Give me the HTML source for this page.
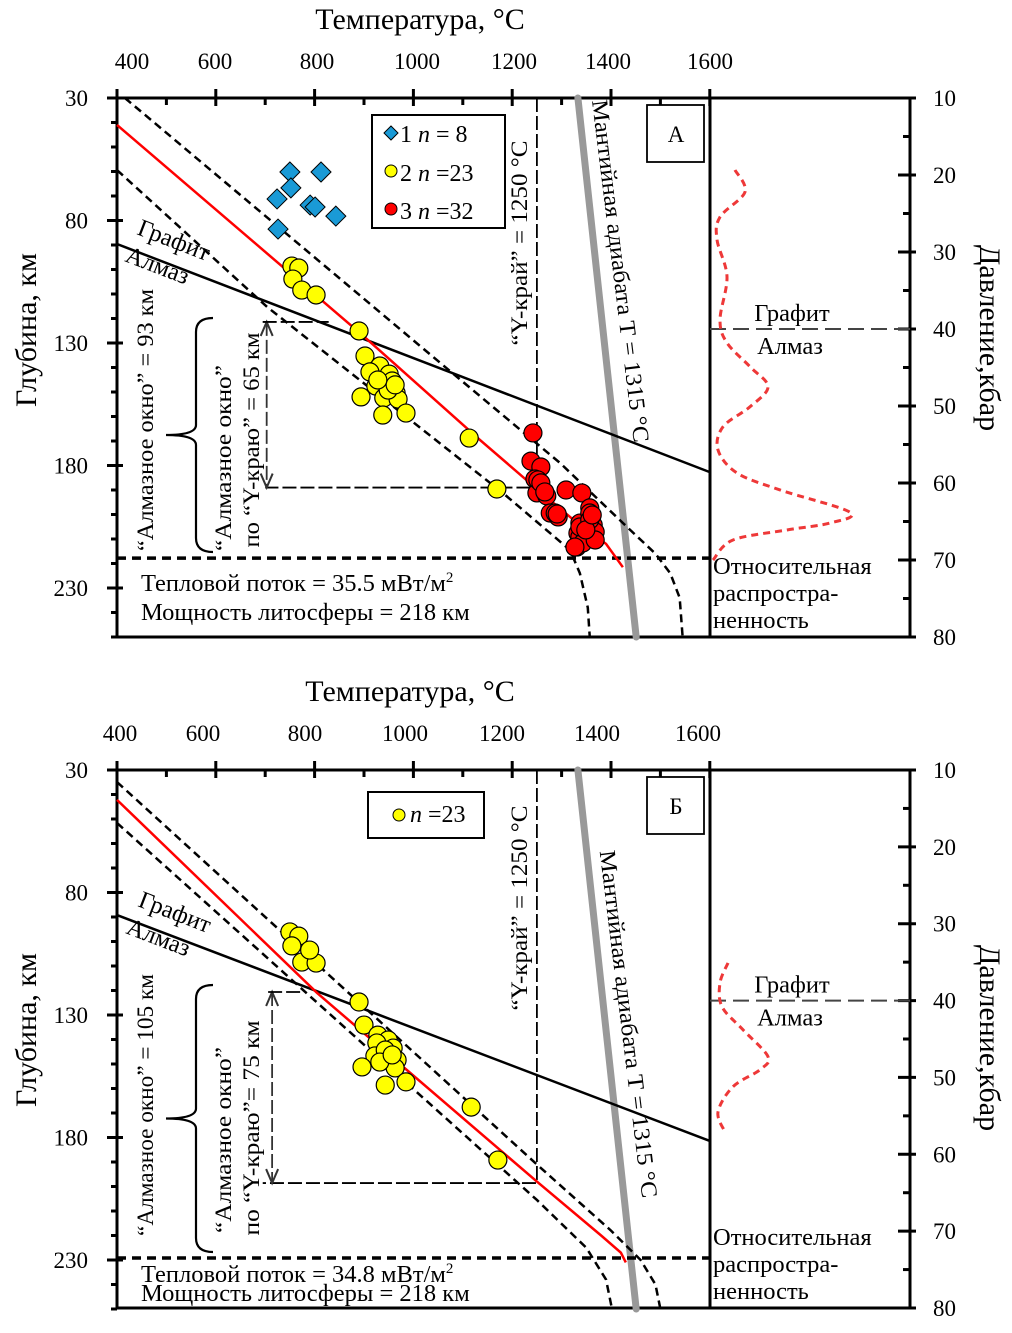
<!DOCTYPE html>
<html><head><meta charset="utf-8"><style>
html,body{margin:0;padding:0;background:#fff;}
svg{display:block;font-family:"Liberation Serif",serif;}
</style></head><body>
<svg id="chart" xmlns="http://www.w3.org/2000/svg" width="1012" height="1333" viewBox="0 0 1012 1333"></svg>
<script>
// ---------- DATA ----------
const tempTicks = [400, 600, 800, 1000, 1200, 1400, 1600];
const depthTicks = [30, 80, 130, 180, 230];
const pressureTicks = [10, 20, 30, 40, 50, 60, 70, 80];

// Panel A
const aDiamondT = [750, 813, 752, 724, 791, 801, 843, 726];
const aDiamondD = [60.2, 60.2, 66.7, 71.2, 73.7, 74.5, 78.2, 83.5];
const aYellowT = [754, 768, 756, 774, 803, 890, 902, 932, 951, 924, 957, 965, 894, 940, 969, 938, 985, 1113, 1169, 912, 949, 963, 928];
const aYellowD = [98.6, 99.4, 103.9, 108.4, 110.4, 125.1, 135.3, 139.4, 142.7, 147.6, 145.5, 150.4, 152.0, 152.4, 152.9, 159.4, 158.6, 168.8, 189.6, 141.8, 149.2, 147.1, 145.1];
const aRedT = [1242, 1238, 1258, 1246, 1250, 1270, 1309, 1341, 1357, 1277, 1293, 1337, 1364, 1333, 1364, 1331, 1357, 1343, 1252, 1287, 1337, 1368, 1343, 1327, 1337, 1357, 1368, 1349, 1258, 1266, 1291, 1362];
const aRedD = [166.7, 178.2, 180.6, 185.5, 191.2, 192.4, 190.0, 191.2, 197.3, 199.4, 201.0, 203.5, 204.3, 207.6, 209.2, 213.3, 199.4, 205.5, 185.9, 199.4, 209.2, 207.1, 211.6, 213.3, 205.1, 202.2, 210.4, 206.3, 187.1, 190.8, 199.8, 200.2];
const aGeoT = [400, 898, 1135, 1250, 1323, 1390, 1424];
const aGeoD = [41, 127, 169.6, 189.6, 202, 212, 221.5];
const aUpT = [416, 1040, 1297, 1432, 1490, 1520, 1539, 1545];
const aUpD = [30, 135.7, 179, 205, 216, 224, 234, 250];
const aLoT = [400, 704, 1181, 1317, 1337, 1353, 1357];
const aLoD = [59.4, 115.3, 191.2, 214.5, 224, 238, 250];
const aGdT = [400, 1600];
const aGdD = [89.6, 182.7];
const aDistP = [19.35, 22.2, 25.45, 28.4, 33.2, 38.8, 41.8, 44.9, 47.5, 50.1, 52.7, 55.7, 58.7, 60.9, 63.8, 65.2, 66.1, 67.4, 70];
const aDistA = [0.125, 0.175, 0.05, 0.035, 0.085, 0.05, 0.085, 0.2, 0.29, 0.2, 0.065, 0.04, 0.135, 0.35, 0.7, 0.6, 0.385, 0.115, 0.015];

// Panel B
const bYellowT = [750, 768, 754, 774, 803, 890, 900, 928, 949, 959, 926, 922, 967, 963, 896, 943, 985, 1117, 1171, 943, 932, 957, 790];
const bYellowD = [96.1, 97.8, 101.8, 108.4, 108.8, 124.7, 134.1, 138.2, 140.2, 143.5, 141.4, 146.7, 148.4, 151.6, 151.2, 158.6, 157.3, 167.6, 189.2, 144.3, 149.2, 146.3, 103.5];
const bGeoT = [400, 805, 1250, 1380, 1420, 1430];
const bGeoD = [42.2, 121, 198, 220, 227, 231];
const bUpT = [400, 1250, 1400, 1460, 1490, 1500];
const bUpD = [34.9, 191, 218, 230, 240, 250];
const bLoT = [400, 1250, 1350, 1390, 1402];
const bLoD = [51.6, 205.5, 225, 238, 250];
const bGdT = [400, 1600];
const bGdD = [89.2, 181.4];
const bDistP = [35.1, 37.7, 40.8, 43.8, 47.3, 49.0, 51.2, 54.5, 57.1];
const bDistA = [0.09, 0.05, 0.06, 0.165, 0.29, 0.25, 0.115, 0.04, 0.075];

const adiabatT = [1333, 1451];
const adiabatD = [30, 250];

// ---------- DRAW ----------
const NS = "http://www.w3.org/2000/svg";
const svg = document.getElementById('chart');
function mk(tag, attrs, parent, txt) {
  const e = document.createElementNS(NS, tag);
  for (const k in attrs) e.setAttribute(k, attrs[k]);
  if (txt !== undefined) e.textContent = txt;
  (parent || svg).appendChild(e);
  return e;
}
function smoothPath(pts) {
  let d = "M" + pts[0][0] + "," + pts[0][1];
  for (let i = 0; i < pts.length - 1; i++) {
    const p0 = pts[i - 1] || pts[i], p1 = pts[i], p2 = pts[i + 1], p3 = pts[i + 2] || p2;
    const c1 = [p1[0] + (p2[0] - p0[0]) / 6, p1[1] + (p2[1] - p0[1]) / 6];
    const c2 = [p2[0] - (p3[0] - p1[0]) / 6, p2[1] - (p3[1] - p1[1]) / 6];
    d += " C" + c1[0] + "," + c1[1] + " " + c2[0] + "," + c2[1] + " " + p2[0] + "," + p2[1];
  }
  return d;
}

function panel(cfg) {
  const g = mk('g', {});
  
  
  const top = cfg.top, bot = cfg.bot, xL = 117, xM = 710, xR = 910;
  const sx = T => xL + (T - 400) * 0.494;
  const sy = D => top + (D - 30) * 2.45;
  const py = P => top + (P - 10) * (bot - top) / 70;
  const ax = a => xM + a * 200;

  let t = mk('text', {x: cfg.titleX, y: cfg.titleY, 'font-size': 30, 'text-anchor': 'middle'}, g, 'Температура, °C');
   
  t = mk('text', {x: 0, y: 0, 'font-size': 30, 'text-anchor': 'middle', transform: `translate(36,${cfg.ylabY}) rotate(-90)`}, g, 'Глубина, км');
   
  t = mk('text', {x: 0, y: 0, 'font-size': 30, 'text-anchor': 'middle', transform: `translate(980,${cfg.ylabY + 8}) rotate(90)`}, g, 'Давление,кбар');
   

  tempTicks.forEach((v, i) => {
    const e = mk('text', {x: cfg.tlx[i], y: top - 29, 'font-size': 23, 'text-anchor': 'middle'}, g, v);
     
  });
  for (let T = 400; T <= 1600; T += 100) {
    const x = sx(T);
    if (T % 200 === 0) mk('line', {x1: x, x2: x, y1: top - 9, y2: top + 8, stroke: '#000', 'stroke-width': 3}, g);
    else mk('line', {x1: x, x2: x, y1: top, y2: top + 7, stroke: '#000', 'stroke-width': 3}, g);
  }
  depthTicks.forEach(v => {
    const e = mk('text', {x: 88, y: sy(v) + 8, 'font-size': 23, 'text-anchor': 'end'}, g, v);
     
  });
  for (let D = 30; D <= 250; D += 10) {
    const y = sy(D);
    if ((D - 30) % 50 === 0) mk('line', {x1: xL - 10, x2: xL + 6, y1: y, y2: y, stroke: '#000', 'stroke-width': 3}, g);
    else mk('line', {x1: xL - 6, x2: xL, y1: y, y2: y, stroke: '#000', 'stroke-width': 3}, g);
  }
  pressureTicks.forEach(v => {
    const e = mk('text', {x: 933, y: py(v) + 8, 'font-size': 23}, g, v);
     
  });
  for (let P = 10; P <= 80; P += 5) {
    const y = py(P);
    if (P % 10 === 0) mk('line', {x1: xR - 12, x2: xR + 6, y1: y, y2: y, stroke: '#000', 'stroke-width': 3}, g);
    else mk('line', {x1: xR - 7, x2: xR, y1: y, y2: y, stroke: '#000', 'stroke-width': 3}, g);
  }
  mk('path', {d: `M${xL},${top} H${xR} V${bot} H${xL} Z M${xM},${top} V${bot}`, fill: 'none', stroke: '#000', 'stroke-width': 3}, g);

  mk('line', {x1: xM, x2: xR, y1: py(40), y2: py(40), stroke: '#444', 'stroke-width': 2, 'stroke-dasharray': '16,7'}, g);
  mk('text', {x: 792, y: py(40) - 8, 'font-size': 24.5, 'text-anchor': 'middle'}, g, 'Графит');
  mk('text', {x: 790, y: py(40) + 25, 'font-size': 24.5, 'text-anchor': 'middle'}, g, 'Алмаз');

  const dp = cfg.distP.map((P, i) => [ax(cfg.distA[i]), py(P)]);
  const dist = mk('path', {d: smoothPath(dp), fill: 'none', stroke: '#ee3838', 'stroke-width': 3, 'stroke-dasharray': '7,5'}, g);
   
  ['Относительная', 'распростра-', 'ненность'].forEach((s, i) => mk('text', {x: 713, y: cfg.relY + i * 27, 'font-size': 24.5}, g, s));

  const ad = mk('line', {x1: sx(adiabatT[0]), y1: sy(adiabatD[0]), x2: sx(adiabatT[1]), y2: sy(adiabatD[1]), stroke: '#999', 'stroke-width': 7, 'stroke-linecap': 'round'}, g);
   
  mk('text', {x: 0, y: 0, 'font-size': 23, 'text-anchor': 'middle', textLength: cfg.adLen, lengthAdjust: 'spacingAndGlyphs', transform: `translate(${cfg.adX},${cfg.adY}) rotate(83)`}, g, 'Мантийная адиабата T = 1315 °C');

  const gd = mk('line', {x1: sx(cfg.gdT[0]), y1: sy(cfg.gdD[0]), x2: sx(cfg.gdT[1]), y2: sy(cfg.gdD[1]), stroke: '#000', 'stroke-width': 2.5}, g);
   
  mk('text', {x: 0, y: 0, 'font-size': 24.5, transform: `translate(${cfg.grX},${cfg.grY}) rotate(21)`}, g, 'Графит');
  mk('text', {x: 0, y: 0, 'font-size': 24.5, transform: `translate(${cfg.grX - 12},${cfg.grY + 27}) rotate(21)`}, g, 'Алмаз');

  const lb = mk('line', {x1: xL, x2: xM, y1: sy(cfg.lithD), y2: sy(cfg.lithD), stroke: '#000', 'stroke-width': 3.5, 'stroke-dasharray': '9,6'}, g);
   

  const yx = sx(1250);
  mk('path', {d: `M${yx},${top} V${sy(cfg.yEdgeD)} H${sx(cfg.yEdgeTmin)}`, fill: 'none', stroke: '#000', 'stroke-width': 1.8, 'stroke-dasharray': '14,4'}, g);
  mk('text', {x: 0, y: 0, 'font-size': 23, 'text-anchor': 'middle', textLength: 205, lengthAdjust: 'spacingAndGlyphs', transform: `translate(${yx - 10},${cfg.yLabY}) rotate(-90)`}, g, '“Y-край” = 1250 °C');

  const arX = sx(cfg.arrowT), ay1 = sy(cfg.arrowD[0]), ay2 = sy(cfg.arrowD[1]);
  mk('line', {x1: arX, x2: arX, y1: ay1, y2: ay2, stroke: '#333', 'stroke-width': 1.8, 'stroke-dasharray': '14,4'}, g);
  mk('path', {d: `M${arX - 6},${ay1 + 14} L${arX},${ay1} L${arX + 6},${ay1 + 14} M${arX - 6},${ay2 - 14} L${arX},${ay2} L${arX + 6},${ay2 - 14}`, fill: 'none', stroke: '#333', 'stroke-width': 2}, g);
  mk('line', {x1: arX - 4, x2: arX + cfg.arrowTop, y1: ay1, y2: ay1, stroke: '#000', 'stroke-width': 1.8, 'stroke-dasharray': '14,4'}, g);

  const b1 = cfg.brace[0], b2 = cfg.brace[1], bm = (b1 + b2) / 2;
  mk('path', {d: `M213,${b1} Q196,${b1} 196,${b1 + 14} L196,${bm - 10} Q196,${bm} 166,${bm} Q196,${bm} 196,${bm + 10} L196,${b2 - 14} Q196,${b2} 213,${b2}`, fill: 'none', stroke: '#000', 'stroke-width': 2.2}, g);
  mk('text', {x: 0, y: 0, 'font-size': 23, 'text-anchor': 'middle', textLength: cfg.w1Len, lengthAdjust: 'spacingAndGlyphs', transform: `translate(153,${cfg.w1Y}) rotate(-90)`}, g, cfg.w1);
  mk('text', {x: 0, y: 0, 'font-size': 23, 'text-anchor': 'middle', textLength: 186, lengthAdjust: 'spacingAndGlyphs', transform: `translate(231,${cfg.w2Y}) rotate(-90)`}, g, '“Алмазное окно”');
  mk('text', {x: 0, y: 0, 'font-size': 23, 'text-anchor': 'middle', textLength: cfg.w3Len, lengthAdjust: 'spacingAndGlyphs', transform: `translate(259,${cfg.w3Y}) rotate(-90)`}, g, cfg.w3);

  const line = (Ts, Ds, attrs, name) => {
    const e = mk('polyline', Object.assign({points: Ts.map((T, i) => sx(T) + ',' + sy(Ds[i])).join(' '), fill: 'none'}, attrs), g);
     
  };
  line(cfg.upT, cfg.upD, {stroke: '#000', 'stroke-width': 2.5, 'stroke-dasharray': '8,5'}, 'geotherm-upper-bound');
  line(cfg.loT, cfg.loD, {stroke: '#000', 'stroke-width': 2.5, 'stroke-dasharray': '8,5'}, 'geotherm-lower-bound');
  line(cfg.geoT, cfg.geoD, {stroke: '#f00', 'stroke-width': 2.5}, 'geotherm');

  (cfg.diaT || []).forEach((T, i) => {
    const x = sx(T), y = sy(cfg.diaD[i]);
    const e = mk('path', {d: `M${x},${y - 10} L${x + 10},${y} L${x},${y + 10} L${x - 10},${y} Z`, fill: '#1a9ad6', stroke: '#000', 'stroke-width': 1}, g);
     
  });
  cfg.yelT.forEach((T, i) => {
    const e = mk('circle', {cx: sx(T), cy: sy(cfg.yelD[i]), r: 9, fill: '#ffff00', stroke: '#000', 'stroke-width': 1.2}, g);
     
  });
  (cfg.redT || []).forEach((T, i) => {
    const e = mk('circle', {cx: sx(T), cy: sy(cfg.redD[i]), r: 9, fill: '#ff0000', stroke: '#000', 'stroke-width': 1.2}, g);
     
  });

  mk('text', {x: 141, y: cfg.hfY, 'font-size': 24.5}, g).innerHTML = cfg.hf;
  mk('text', {x: 141, y: cfg.hfY + cfg.hfGap, 'font-size': 24.5}, g, 'Мощность литосферы = 218 км');

  mk('rect', {x: 647, y: top + 7, width: 57, height: 57, fill: '#fff', stroke: '#000', 'stroke-width': 1.8}, g);
  mk('text', {x: 676, y: top + 44, 'font-size': 23, 'text-anchor': 'middle'}, g, cfg.letter);

  const lg = mk('g', {}, g);
   
  if (cfg.name === 'panel-a') {
    mk('rect', {x: 372, y: 115, width: 133, height: 113, fill: '#fff', stroke: '#000', 'stroke-width': 2}, lg);
    mk('path', {d: 'M391,126 L398,133 L391,140 L384,133 Z', fill: '#1a9ad6', stroke: '#000', 'stroke-width': 1}, lg);
    mk('circle', {cx: 391, cy: 171, r: 6, fill: '#ff0', stroke: '#000', 'stroke-width': 1}, lg);
    mk('circle', {cx: 391, cy: 209, r: 6, fill: '#f00', stroke: '#000', 'stroke-width': 1}, lg);
    mk('text', {x: 400, y: 142, 'font-size': 24}, lg).innerHTML = '1 <tspan font-style="italic">n</tspan> = 8';
    mk('text', {x: 400, y: 181, 'font-size': 24}, lg).innerHTML = '2 <tspan font-style="italic">n</tspan> =23';
    mk('text', {x: 400, y: 219, 'font-size': 24}, lg).innerHTML = '3 <tspan font-style="italic">n</tspan> =32';
  } else {
    mk('rect', {x: 368, y: 792, width: 116, height: 46, fill: '#fff', stroke: '#000', 'stroke-width': 2}, lg);
    mk('circle', {cx: 399, cy: 815, r: 6, fill: '#ff0', stroke: '#000', 'stroke-width': 1}, lg);
    mk('text', {x: 410, y: 822, 'font-size': 24}, lg).innerHTML = '<tspan font-style="italic">n</tspan> =23';
  }
}

panel({name: 'panel-a', letter: 'А', top: 98, bot: 637, titleX: 420, titleY: 29, ylabY: 330,
  tlx: [132, 215, 317, 417, 514, 608, 710], relY: 574,
  adX: 613, adY: 272, adLen: 345, gdT: aGdT, gdD: aGdD, grX: 136, grY: 234, lithD: 217.8,
  yEdgeD: 189, yEdgeTmin: 700, yLabY: 243, arrowT: 703, arrowD: [121.4, 189], arrowTop: 62,
  brace: [318, 552], w1: '“Алмазное окно” = 93 км', w1Len: 262, w1Y: 420, w2Y: 458, w3: 'по “Y-краю” = 65 км', w3Len: 215, w3Y: 440,
  upT: aUpT, upD: aUpD, loT: aLoT, loD: aLoD, geoT: aGeoT, geoD: aGeoD,
  diaT: aDiamondT, diaD: aDiamondD, yelT: aYellowT, yelD: aYellowD, redT: aRedT, redD: aRedD,
  distP: aDistP, distA: aDistA, hfGap: 29,
  hf: 'Тепловой поток = 35.5 мВт/м<tspan font-size="15" dy="-9">2</tspan>', hfY: 591});

panel({name: 'panel-b', letter: 'Б', top: 770, bot: 1308, titleX: 410, titleY: 701, ylabY: 1030,
  tlx: [120, 203, 305, 405, 502, 597, 698], relY: 1245,
  adX: 621, adY: 1025, adLen: 350, gdT: bGdT, gdD: bGdD, grX: 137, grY: 906, lithD: 229.2,
  yEdgeD: 198.6, yEdgeTmin: 695, yLabY: 908, arrowT: 714, arrowD: [120.6, 198.6], arrowTop: 30,
  brace: [985, 1252], w1: '“Алмазное окно” = 105 км', w1Len: 262, w1Y: 1105, w2Y: 1140, w3: 'по “Y-краю”= 75 км', w3Len: 215, w3Y: 1128,
  upT: bUpT, upD: bUpD, loT: bLoT, loD: bLoD, geoT: bGeoT, geoD: bGeoD,
  yelT: bYellowT, yelD: bYellowD, distP: bDistP, distA: bDistA, hfGap: 19,
  hf: 'Тепловой поток = 34.8 мВт/м<tspan font-size="15" dy="-9">2</tspan>', hfY: 1282});
</script>
</body></html>
